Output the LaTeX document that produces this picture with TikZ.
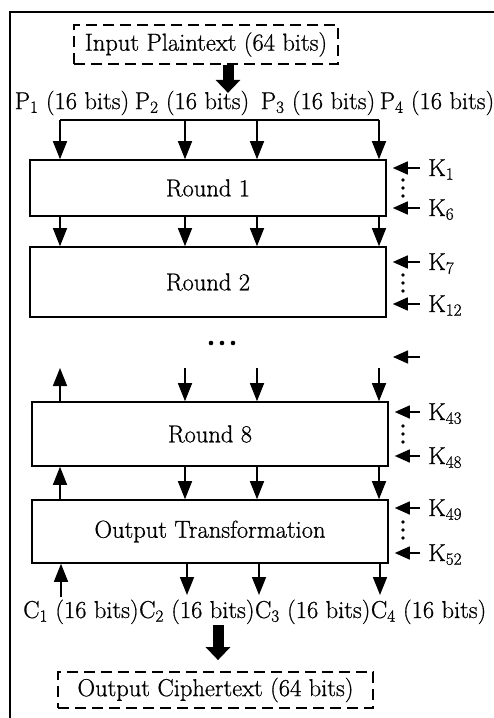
\documentclass[tikz,border=0pt]{standalone}
\usepackage{fontspec}
\setmainfont{Latin Modern Roman}[FakeBold=0.7]
\usetikzlibrary{arrows.meta,calc}
\begin{document}
\begin{tikzpicture}[x=1pt,y=1pt,
  every node/.style={font=\fontsize{24.5}{28}\selectfont},
  rbox/.style={draw, line width=1.6pt, minimum width=356pt, inner sep=0pt},
  dbox/.style={draw, line width=1.8pt, dash pattern=on 11pt off 6pt, inner sep=0pt},
  arr/.style={line width=1.6pt, -{Triangle[length=18pt,width=14pt]}},
  karr/.style={line width=1.6pt, -{Triangle[length=15pt,width=13pt]}},
  fat/.style={line width=11pt, -{Triangle[length=13pt,width=24pt]}},
  lbl/.style={inner sep=0pt},
  dot/.style={fill=black}
]
\useasboundingbox (0,0) rectangle (494,-718);
\draw[line width=1.6pt] (10,-718) -- (10,-12) -- (494,-12);

% input
\node[dbox, minimum width=264pt, minimum height=39pt] (in) at (206,-44.5) {Input Plaintext (64 bits)};
\draw[fat] ([xshift=22pt]in.south) -- ++(0,-28);

% P labels
\node[lbl] (p1) at (72,-103) {P\textsubscript{1} (16 bits)};
\node[lbl] (p2) at (192,-103) {P\textsubscript{2} (16 bits)};
\node[lbl] (p3) at (318,-103) {P\textsubscript{3} (16 bits)};
\node[lbl] (p4) at (437,-103) {P\textsubscript{4} (16 bits)};

% column coordinates
\coordinate (t1) at (60,-120);
\coordinate (t2) at (185,-120);
\coordinate (t3) at (257,-120);
\coordinate (t4) at (379,-120);
\draw[line width=1.6pt] (t1) -- (t4);

% rounds
\node[rbox, minimum height=56pt] (r1) at (208,-188) {Round 1};
\node[rbox, minimum height=70pt] (r2) at (208,-282) {Round 2};
\node[rbox, minimum height=64pt] (r8) at (210,-434) {Round 8};
\node[rbox, minimum height=63pt] (ot) at (210,-531.5) {Output Transformation};

\foreach \i in {1,2,3,4}{
  \draw[arr] (t\i) -- (t\i |- r1.north);
  \draw[arr] (r1.south -| t\i) -- (r2.north -| t\i);
}

% dots between round 2 and round 8
\foreach \dx in {-11,0,11} \fill[dot] (222+\dx,-343) circle (2.3pt);

% above round 8
\coordinate (u1) at (60,-368);
\coordinate (u2) at (185,-368);
\coordinate (u3) at (257,-368);
\coordinate (u4) at (379,-368);
\draw[arr] (r8.north -| u1) -- (u1);
\foreach \i in {2,3,4} \draw[arr] (u\i) -- (u\i |- r8.north);

% between round 8 and OT
\draw[arr] (ot.north -| u1) -- (r8.south -| u1);
\foreach \i in {2,3,4} \draw[arr] (r8.south -| u\i) -- (ot.north -| u\i);

% below OT
\coordinate (b1) at (61,-597);
\coordinate (b2) at (187,-595);
\coordinate (b3) at (259,-595);
\coordinate (b4) at (380,-595);
\draw[arr] (b1) -- (b1 |- ot.south);
\foreach \i in {2,3,4} \draw[arr] (ot.south -| b\i) -- (b\i);

% C labels
\node[lbl, anchor=base west] (c1) at (23,-618) {C\textsubscript{1} (16 bits)};
\node[lbl, anchor=base west] (c2) at (c1.base east) {C\textsubscript{2} (16 bits)};
\node[lbl, anchor=base west] (c3) at (c2.base east) {C\textsubscript{3} (16 bits)};
\node[lbl, anchor=base west] (c4) at (c3.base east) {C\textsubscript{4} (16 bits)};

% output
\node[dbox, minimum width=315pt, minimum height=36pt] (out) at (215.5,-690) {Output Ciphertext (64 bits)};
\coordinate (fa) at (218,-625);
\draw[fat, shorten >=11pt] (fa) -- (fa |- out.north);

% keys
\foreach \name/\lab/\y/\bx in {k1/K\textsubscript{1}/168/r1, k6/K\textsubscript{6}/208/r1,
    k7/K\textsubscript{7}/262/r2, k12/K\textsubscript{12}/304/r2,
    k43/K\textsubscript{43}/412/r8, k48/K\textsubscript{48}/456/r8,
    k49/K\textsubscript{49}/508/ot, k52/K\textsubscript{52}/553/ot}{
  \node[lbl, anchor=base west] (\name) at (428,-\y-8) {\lab};
  \coordinate (\name a) at ($(\name.base west)+(-8,8)$);
  \draw[karr, shorten >=6pt] (\name a) -- (\name a -| \bx.east);
}
\coordinate (kx) at (420,-357);
\draw[karr] (kx) -- ++(-27,0);

% vertical dots
\foreach \yc in {188,283,434,530}
  \foreach \dy in {-8,0,8} \fill[dot] (403,-\yc+\dy) circle (1.9pt);
\end{tikzpicture}
\end{document}
